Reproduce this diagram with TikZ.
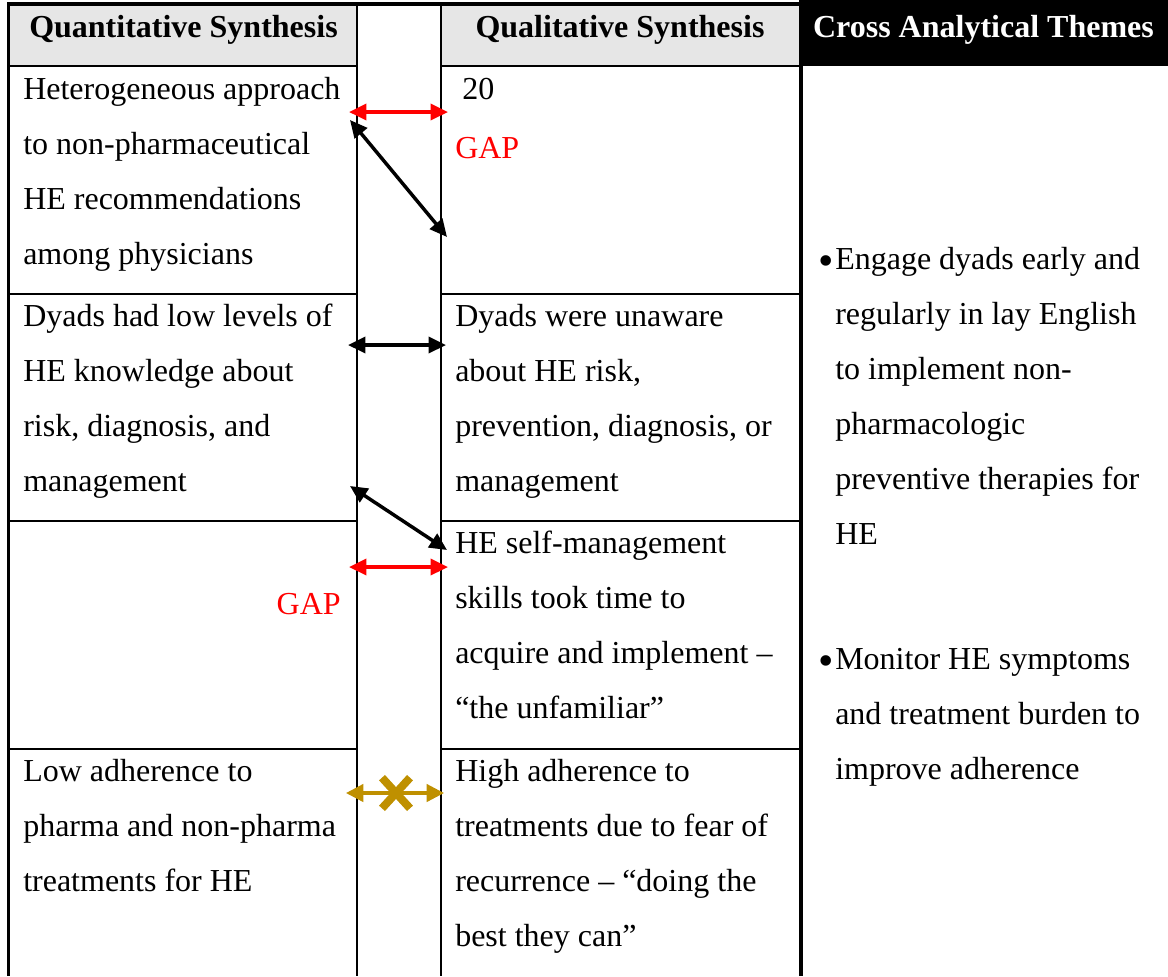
\documentclass[tikz,border=0pt]{standalone}
\usepackage{fontspec}
\setmainfont{Liberation Serif}
\usetikzlibrary{arrows.meta,shapes.misc}
\definecolor{hdrgray}{HTML}{E6E6E6}
\definecolor{gapred}{HTML}{FF0000}
\definecolor{gold}{HTML}{BF9000}

\begin{document}
\begin{tikzpicture}[x=0.75pt,y=-0.75pt,
  cell/.style={anchor=north west, inner sep=0pt, align=left,
               font=\fontsize{24}{41.25}\selectfont},
  word/.style={inner sep=0pt, font=\fontsize{24}{41.25}\selectfont},
  bulletglyph/.style={inner sep=0pt, anchor=base west, font=\fontsize{33}{40}\selectfont},
  head/.style={anchor=base, inner sep=0pt, font=\fontsize{24}{30}\selectfont\bfseries},
  thinrule/.style={line width=1.5pt},
  boldrule/.style={line width=3pt},
  link/.style={line width=2.6pt, {Triangle[length=13pt,width=12pt]}-{Triangle[length=13pt,width=12pt]}},
  gaplink/.style={link, draw=gapred},
  matchlink/.style={link, draw=black},
  clashlink/.style={line width=2.4pt, draw=gold,
                    {Triangle[length=13pt,width=13pt]}-{Triangle[length=13pt,width=13pt]}}
]
\useasboundingbox (0,0) rectangle (1168,976);

% header backgrounds
\fill[hdrgray] (10,6) rectangle (357,66);
\fill[hdrgray] (441,6) rectangle (799,66);
\fill[black] (799,0) rectangle (1168,66);

% table rules
\draw[boldrule] (7,4) -- (1168,4);
\draw[line width=2.6pt] (8.5,2) -- (8.5,976);
\draw[line width=2pt] (9,66) -- (357,66);
\draw[line width=2pt] (441,66) -- (801,66);
\draw[thinrule] (357,4) -- (357,976);
\draw[thinrule] (441,4) -- (441,976);
\draw[boldrule] (801,66) -- (801,976);
\foreach \yy in {294,521,749} {
  \draw[thinrule] (9,\yy) -- (357,\yy);
  \draw[thinrule] (441,\yy) -- (801,\yy);
}

% headings
\node[head] (hquant) at (183.5,37) {Quantitative Synthesis};
\node[head] (hqual) at (620,37) {Qualitative Synthesis};
\node[head, text=white] (hcross) at (983.5,37) {Cross Analytical Themes};

% quantitative column
\node[cell] (qn1) at (23,60.5) {\strut Heterogeneous approach\\to non-pharmaceutical\\HE recommendations\\among physicians};
\node[cell] (qn2) at (23,287.5) {\strut Dyads had low levels of\\HE knowledge about\\risk, diagnosis, and\\management};
\node[word, anchor=base east, text=gapred] (qn3) at (341,614) {GAP};
\node[cell] (qn4) at (23,742.5) {\strut Low adherence to\\pharma and non-pharma\\treatments for HE};

% qualitative column
\node[word, anchor=base west] (ql1) at (462,99) {20};
\node[word, anchor=base west, text=gapred] (ql1gap) at (455,158) {GAP};
\node[cell] (ql2) at (455,287.5) {\strut Dyads were unaware\\about HE risk,\\prevention, diagnosis, or\\management};
\node[cell] (ql3) at (455,514.5) {\strut HE self-management\\skills took time to\\acquire and implement –\\“the unfamiliar”};
\node[cell] (ql4) at (455,742.5) {\strut High adherence to\\treatments due to fear of\\recurrence – “doing the\\best they can”};

% cross analytical themes
\node[bulletglyph] (b1) at (818,275) {\textbullet};
\node[cell] (th1) at (835,231) {\strut Engage dyads early and\\regularly in lay English\\to implement non-\\pharmacologic\\preventive therapies for\\HE};
\node[bulletglyph] (b2) at (818,675) {\textbullet};
\node[cell] (th2) at (835,631) {\strut Monitor HE symptoms\\and treatment burden to\\improve adherence};

% connector end points
\coordinate (r1L) at (349,112);
\coordinate (r1R) at (448,112);
\coordinate (d1a) at (350,120);
\coordinate (d1b) at (447,237);
\coordinate (h2L) at (348,345);
\coordinate (h2R) at (446,345);
\coordinate (d2a) at (350,486);
\coordinate (d2b) at (447,550);
\coordinate (r3L) at (349,567);
\coordinate (r3R) at (448,567);
\coordinate (g4L) at (346,793);
\coordinate (g4R) at (444,793);

% connectors
\draw[gaplink] (r1L) -- (r1R);
\draw[matchlink] (d1a) -- (d1b);
\draw[matchlink] (h2L) -- (h2R);
\draw[matchlink] (d2a) -- (d2b);
\draw[gaplink] (r3L) -- (r3R);
\draw[clashlink] (g4L) -- (g4R);
\node[cross out, draw=gold, line width=6pt, minimum width=15pt,
      minimum height=17pt, inner sep=0pt] (xmark) at (396,793) {};
\end{tikzpicture}
\end{document}
